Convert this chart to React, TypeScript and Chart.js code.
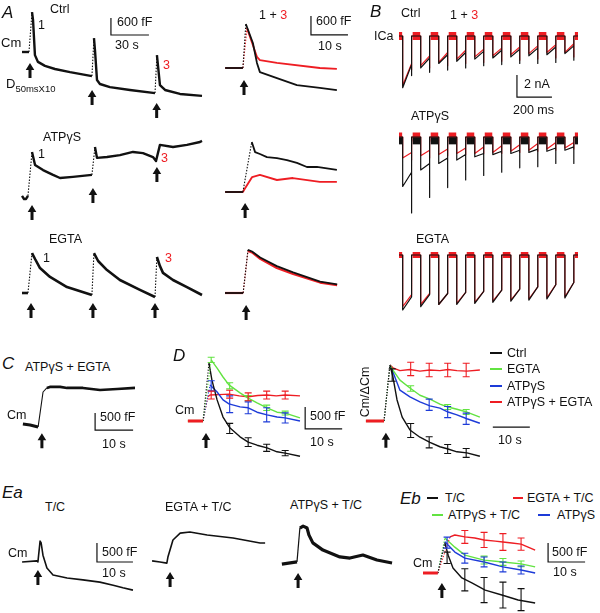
import React, { useEffect, useRef } from "react";
import { Chart, registerables } from "chart.js";

Chart.register(...registerables);

type P = [number, number];

const RED = "#ee1d23";
const GREEN = "#62e341";
const BLUE = "#1d3bd8";
const BLACK = "#111111";
const FONT = "'Liberation Sans', Arial, Helvetica, sans-serif";

// ===== Panel A (left): Cm in fF relative to pre-stimulus level, time in s =====
const aCtrlBase: P[] = [[-6.3, 0], [-0.8, 0]];
const aCtrl1: P[] = [[1.6, 1410], [2.4, 1130], [3.9, -110], [6.3, -350], [11.8, -490], [19.7, -600], [31.6, -710], [48.9, -850]];
const aCtrl2: P[] = [[50.5, 490], [51.3, 70], [52.9, -990], [55.2, -1130], [63.1, -1240], [78.9, -1340], [98.7, -1450]];
const aCtrl3: P[] = [[100.2, -110], [101, -460], [102.6, -1170], [106.6, -1340], [118.4, -1480], [135.8, -1550]];
const aCtrlArrows: P[] = [[0, -390], [49, -1340], [100, -1800]];

const aAtpBase: P[] = [[-7.1, 40], [-5.5, -70], [-3.9, -70], [-2.4, 40]];
const aAtp1: P[] = [[0.8, 1590], [3.2, 1130], [9.5, 950], [17.4, 780], [22.9, 670], [33.1, 710], [48.1, 780]];
const aAtp2: P[] = [[50.5, 1765], [52.1, 1380], [60, 1410], [70.2, 1480], [80.5, 1590], [88.4, 1550], [96.3, 1410], [98.7, 1270], [101.8, 1840], [112.1, 1765], [123.1, 1840], [133.4, 1940], [135, 1980]];
const aAtpArrows: P[] = [[0.8, -280], [48.9, 320], [99.4, 1060]];

const aEgtaBase: P[] = [[-7.1, 0], [-2.4, 0]];
const aEgta1: P[] = [[0.8, 1410], [3.2, 1200], [7.1, 880], [15, 565], [28.4, 210], [48.1, -70]];
const aEgta2: P[] = [[49.7, 1410], [53, 1130], [60, 810], [70.2, 460], [86, 110], [97.9, -140]];
const aEgta3: P[] = [[99.4, 1270], [101.8, 950], [104.2, 710], [112.1, 460], [123.1, 210], [135, -70]];
const aEgtaArrows: P[] = [[0, -350], [48.9, -350], [97.9, -350]];

// ===== Panel A (right): responses 1 (black) and 3 (red) superimposed =====
const arCtrlBase: P[] = [[-5.1, 0], [-0.3, 0]];
const arCtrlBlack: P[] = [[0.5, 1390], [2.4, 790], [3.5, 160], [4.3, -130], [8.9, -320], [14.3, -540], [20.5, -630], [25.1, -700]];
const arCtrlRed: P[] = [[0.8, 1260], [2.2, 790], [3.5, 350], [4.3, 250], [8.9, 160], [20.5, 0], [25.1, -30]];
const arAtpBase: P[] = [[-5.1, 0], [-0.3, 0]];
const arAtpBlack: P[] = [[2.1, 1580], [3, 1260], [4.3, 1200], [6.2, 1100], [8.9, 1070], [11.6, 1010], [14.3, 920], [17, 790], [19.7, 790], [25.1, 700]];
const arAtpRed: P[] = [[0, 60], [2.2, 470], [4.3, 540], [8.9, 380], [13.2, 440], [20.5, 320], [25.1, 320]];
const arEgtaBase: P[] = [[-5.4, 0], [-0.5, 0]];
const arEgtaBlack: P[] = [[0.8, 1360], [1.9, 1310], [4.1, 1120], [8.6, 850], [13, 650], [20.3, 360], [24.9, 270]];
const arEgtaRed: P[] = [[0.8, 1330], [1.9, 1280], [4.1, 1080], [8.6, 790], [13, 600], [20.3, 330], [24.9, 250]];

// ===== Panel B: ICa (nA) vs time (ms), train of 10 depolarisations =====
const bPulseOn = [21, 124, 227, 330, 433, 536, 639, 742, 845, 948];
const bPulseOff = [72, 175, 278, 381, 484, 587, 690, 793, 896, 999];
const bTrainEnd = 1023;
const bCtrlRedPeak = [-4.5, -2.7, -2.4, -2.1, -1.9, -1.8, -1.7, -1.6, -1.5, -1.5];
const bCtrlRedLate = [-2.5, -1.8, -1.5, -1.3, -1.2, -1.1, -1.0, -0.9, -0.8, -0.7];
const bCtrlRedTail = [-3.1, -2.9, -2.7, -2.5, -2.4, -2.3, -2.2, -2.1, -2.0, -1.9];
const bCtrlBlkPeak = [-4.7, -2.9, -2.5, -2.3, -2.1, -2.0, -1.9, -1.8, -1.7, -1.6];
const bCtrlBlkLate = [-2.6, -2.0, -1.7, -1.5, -1.4, -1.3, -1.2, -1.1, -1.0, -0.9];
const bCtrlBlkTail = [-3.6, -3.3, -3.1, -2.9, -2.7, -2.6, -2.5, -2.5, -2.4, -2.2];
const bAtpRedPeak = [-1.9, -1.7, -1.6, -1.5, -1.5, -1.4, -1.3, -1.2, -1.1, -1.0];
const bAtpRedLate = [-1.4, -1.2, -1.1, -1.0, -0.9, -0.8, -0.7, -0.6, -0.5, -0.5];
const bAtpRedTail = [-2.1, -1.9, -1.7, -1.6, -1.5, -1.5, -1.4, -1.3, -1.2, -1.1];
const bAtpBlkPeak = [-4.5, -3.0, -2.4, -2.1, -1.8, -1.6, -1.5, -1.4, -1.3, -1.2];
const bAtpBlkLate = [-3.2, -2.4, -1.9, -1.6, -1.5, -1.3, -1.2, -1.1, -1.0, -0.9];
const bAtpBlkTail = [-6.9, -5.5, -4.6, -3.9, -3.5, -3.2, -2.8, -2.7, -2.4, -2.4];
const bAtpBlkHold = -0.35;
const bEgtaRedPeak = [-4.7, -4.5, -4.5, -4.4, -4.3, -4.2, -4.1, -4.0, -3.9, -3.8];
const bEgtaRedLate = [-3.6, -3.5, -3.5, -3.4, -3.3, -3.2, -3.1, -2.9, -2.7, -2.5];
const bEgtaBlkPeak = [-5.0, -4.7, -4.5, -4.5, -4.4, -4.3, -4.2, -4.1, -4.0, -3.9];
const bEgtaBlkLate = [-3.8, -3.6, -3.5, -3.4, -3.3, -3.2, -3.1, -2.9, -2.7, -2.5];

// ===== Panel C: ATPγS + EGTA =====
const cBase: P[] = [[-4.5, 60], [-2.6, 30], [-0.5, -30]];
const cTrace: P[] = [[1.8, 1120], [2.6, 1150], [5.3, 1150], [7.1, 1120], [11.3, 1120], [15.8, 1060], [20.3, 1090], [25, 1120]];
const cArrows: P[] = [[0.5, -210]];

// ===== Panel D (left): mean Cm (fF) =====
const dBase: P[] = [[-4.9, 0], [-0.8, 0]];
const dCtrl: P[] = [[0.8, 1320], [1.6, 930], [3.0, 480], [4.6, 90], [6.5, -160], [9.2, -360], [11.4, -480], [13.8, -550], [16.5, -610], [19.2, -700], [21.4, -730], [25.4, -800]];
const dEgta: P[] = [[1.4, 1390], [3.0, 1200], [4.6, 1000], [6.2, 820], [9.2, 640], [11.4, 520], [13.8, 410], [16.5, 300], [19.2, 200], [21.4, 180], [25.4, 70]];
const dAtp: P[] = [[1.1, 820], [3.0, 660], [4.6, 480], [6.2, 390], [9.2, 320], [11.4, 300], [13.8, 200], [16.5, 140], [19.2, 90], [21.4, 70], [25.4, 0]];
const dBoth: P[] = [[0.5, 550], [1.1, 590], [3.5, 600], [6.2, 610], [9.0, 570], [11.4, 550], [14.0, 580], [16.5, 590], [19.0, 570], [21.4, 590], [25.4, 570]];
const dErrT = [1.4, 6.4, 11.4, 16.4, 21.4];
const dCtrlErrT = [6.4, 11.4, 16.4, 21.4];
const dCtrlErrM = [-170, -480, -610, -730];
const dCtrlErrE = [115, 100, 80, 60];
const dEgtaErrM = [1390, 800, 520, 300, 180];
const dEgtaErrE = [60, 70, 60, 60, 45];
const dAtpErrM = [800, 380, 300, 140, 70];
const dAtpErrE = [115, 190, 135, 160, 115];
const dBothErrM = [590, 610, 550, 590, 590];
const dBothErrE = [90, 90, 90, 90, 90];
const dArrows: P[] = [[0, -270]];

// ===== Panel D (right): Cm / ΔCm =====
const drBase: P[] = [[-5.7, 0], [-0.8, 0]];
const drCtrl: P[] = [[0.8, 1.0], [1.6, 0.79], [2.7, 0.38], [4.1, 0.07], [6.2, -0.16], [8.9, -0.29], [11.6, -0.38], [14.3, -0.46], [16.5, -0.5], [18.9, -0.55], [21.6, -0.57], [25.1, -0.63]];
const drEgta: P[] = [[0.8, 1.0], [1.6, 0.91], [3.5, 0.73], [6.2, 0.59], [8.9, 0.46], [11.6, 0.39], [14.3, 0.3], [16.5, 0.25], [18.9, 0.21], [21.6, 0.16], [25.1, 0.07]];
const drAtp: P[] = [[0.8, 1.0], [1.6, 0.875], [3.5, 0.55], [6.2, 0.43], [8.9, 0.34], [11.6, 0.27], [14.3, 0.23], [16.5, 0.16], [18.9, 0.11], [21.6, 0.04], [25.1, -0.04]];
const drBoth: P[] = [[0.8, 1.0], [1.6, 0.95], [3.5, 0.9], [6.2, 0.92], [8.9, 0.89], [11.6, 0.91], [14.3, 0.9], [16.5, 0.92], [18.9, 0.9], [21.6, 0.89], [25.1, 0.91]];
const drCtrlErrM = [0.82, -0.17, -0.38, -0.5, -0.57];
const drCtrlErrE = [0.11, 0.125, 0.1, 0.08, 0.08];
const drEgtaErrT = [6.4, 16.4, 21.4];
const drEgtaErrM = [0.58, 0.25, 0.16];
const drEgtaErrE = [0.05, 0.045, 0.045];
const drAtpErrT = [11.4, 16.4, 21.4];
const drAtpErrM = [0.29, 0.16, 0.04];
const drAtpErrE = [0.1, 0.1, 0.1];
const drBothErrT = [6.4, 11.4, 16.4, 21.4];
const drBothErrM = [0.93, 0.91, 0.91, 0.91];
const drBothErrE = [0.12, 0.12, 0.12, 0.12];
const drArrows: P[] = [[-0.3, -0.21]];

// ===== Panel Ea: single traces with T/C =====
const eaTc: P[] = [[-4.7, 0], [-0.6, 30], [-0.3, 0], [0.3, 550], [0.6, 500], [1.1, 180], [2.2, -160], [3.9, -340], [7.8, -420], [12.2, -470], [16.9, -530], [20.6, -610], [23.3, -680], [26.1, -740]];
const eaEgta: P[] = [[-4.7, 30], [-2.5, 0], [-0.6, -30], [-0.3, 130], [1.1, 580], [3.1, 760], [5.8, 790], [10.6, 710], [17.8, 630], [25.3, 500], [26.7, 500]];
const eaAtpBase: P[] = [[-4.2, -30], [0, 30]];
const eaAtp: P[] = [[0.8, 920], [1.7, 970], [2.8, 920], [3.3, 740], [4.4, 530], [7.2, 340], [11.9, 160], [14.7, 130], [18.3, 210], [22.2, 80], [26.4, 0]];

// ===== Panel Eb: means with T/C =====
const ebBase: P[] = [[-5.4, 0], [-1.4, 0]];
const ebTc: P[] = [[0.5, 790], [1.4, 470], [2.7, 130], [5.1, -130], [7.8, -260], [11.4, -450], [15.9, -580], [20.3, -710], [24.9, -790]];
const ebEgta: P[] = [[1.9, 950], [3.2, 1000], [5.9, 950], [8.6, 920], [11.1, 870], [14.1, 840], [16.2, 815], [18.6, 790], [21.1, 760], [23, 680], [24.9, 600]];
const ebAtpTc: P[] = [[0.5, 920], [3.2, 680], [5.9, 470], [11.1, 340], [16.2, 290], [21.1, 240], [24.9, 160]];
const ebAtp: P[] = [[0.5, 820], [3.2, 550], [5.9, 390], [11.1, 290], [16.2, 160], [21.1, 80], [24.9, 0]];
const ebErrT = [1.1, 5.9, 11.1, 16.2, 21.1];
const ebTcErrM = [400, -180, -450, -580, -700];
const ebTcErrE = [150, 290, 330, 340, 290];
const ebEgtaErrT = [5.9, 11.1, 16.2, 21.1];
const ebEgtaErrM = [950, 870, 815, 760];
const ebEgtaErrE = [170, 200, 220, 160];
const ebAtpTcErrT = [11.1, 16.2, 21.1];
const ebAtpTcErrM = [340, 290, 240];
const ebAtpTcErrE = [105, 90, 75];
const ebAtpErrM = [800, 390, 290, 160, 80];
const ebAtpErrE = [145, 130, 130, 130, 105];

// ---------- helpers ----------
interface Ln { pts: P[]; color: string; width: number; dash?: number[] }
interface Err { t: number[]; m: number[]; e: number[]; color: string }
interface Spec {
  box: number[]; origin: number[]; scale: number[];
  lines: Ln[]; arrows?: P[]; errs?: Err[];
  bar?: { at: P; dx: number; dy: number };
}

const first = (a: P[]) => a[0];
const last = (a: P[]) => a[a.length - 1];

function trace(segs: P[][], color: string, width: number, riseDash: number[] = [1.5, 1.5], riseWidth = 1.1): Ln[] {
  const out: Ln[] = [];
  segs.forEach((s, i) => {
    if (i > 0) out.push({ pts: [last(segs[i - 1]), first(s)], color, width: riseWidth, dash: riseDash });
    out.push({ pts: s, color, width });
  });
  return out;
}

function fan(base: P[], series: { pts: P[]; color: string }[], width: number): Ln[] {
  const out: Ln[] = [];
  series.forEach((s) => out.push({ pts: [last(base), first(s.pts)], color: s.color, width: 1.1, dash: [1.2, 1.6] }));
  series.forEach((s) => out.push({ pts: s.pts, color: s.color, width }));
  return out;
}

function wave(peak: number[], late: number[], tail: number[]): P[] {
  const pts: P[] = [[0, 0]];
  bPulseOn.forEach((on, k) => {
    const off = bPulseOff[k];
    pts.push([on, 0], [on, peak[k]], [off, late[k]], [off, tail[k]], [off, 0]);
  });
  pts.push([bTrainEnd, 0]);
  return pts;
}

function holds(level: number, color: string, width: number): Ln[] {
  const segs: P[][] = [[[0, level], [bPulseOn[0] - 3, level]]];
  bPulseOff.forEach((off, k) => {
    const next = k + 1 < bPulseOn.length ? bPulseOn[k + 1] - 3 : bTrainEnd;
    segs.push([[off + 6, level], [next, level]]);
  });
  return segs.map((s) => ({ pts: s, color, width }));
}

const sA = [38 / 30, 17 / 600];
const sAR = [37 / 10, 19 / 600];
const sB = [35 / 200, 22 / 2];

const specs: Spec[] = [
  // A left
  { box: [10, 0, 200, 125], origin: [30, 52], scale: sA, lines: trace([aCtrlBase, aCtrl1, aCtrl2, aCtrl3], BLACK, 2.4), arrows: aCtrlArrows, bar: { at: [63.9, 600], dx: 30, dy: 600 } },
  { box: [10, 128, 200, 97], origin: [31, 197], scale: sA, lines: trace([aAtpBase, aAtp1, aAtp2], BLACK, 2.4), arrows: aAtpArrows },
  { box: [10, 232, 200, 90], origin: [31, 293], scale: sA, lines: trace([aEgtaBase, aEgta1, aEgta2, aEgta3], BLACK, 2.6), arrows: aEgtaArrows },
  // A right
  { box: [218, 5, 140, 95], origin: [244, 68], scale: sAR, lines: [...trace([arCtrlBase, arCtrlBlack], BLACK, 1.8), ...trace([arCtrlBase, arCtrlRed], RED, 1.8)], arrows: [[0, -380]], bar: { at: [18.1, 1043], dx: 10, dy: 600 } },
  { box: [218, 130, 140, 95], origin: [244, 192], scale: sAR, lines: [...trace([arAtpBase, arAtpBlack], BLACK, 1.8), { pts: [...arAtpBase, ...arAtpRed], color: RED, width: 1.9 }], arrows: [[0.3, -350]] },
  { box: [218, 235, 140, 90], origin: [245, 293], scale: sAR, lines: [...trace([arEgtaBase, arEgtaBlack], BLACK, 1.8), ...trace([arEgtaBase, arEgtaRed], RED, 2.2)], arrows: [[0.3, -380]] },
  // B
  { box: [392, 22, 196, 85], origin: [399, 36], scale: sB, lines: [
    { pts: wave(bCtrlBlkPeak, bCtrlBlkLate, bCtrlBlkTail), color: BLACK, width: 1.2 },
    { pts: wave(bCtrlRedPeak, bCtrlRedLate, bCtrlRedTail), color: RED, width: 1.2 },
    ...holds(0, RED, 8)], bar: { at: [674, -5.55], dx: 200, dy: 2 } },
  { box: [392, 125, 196, 95], origin: [399, 137], scale: sB, lines: [
    ...holds(bAtpBlkHold, BLACK, 7),
    { pts: wave(bAtpBlkPeak, bAtpBlkLate, bAtpBlkTail), color: BLACK, width: 1.2 },
    { pts: wave(bAtpRedPeak, bAtpRedLate, bAtpRedTail), color: RED, width: 1.2 },
    ...holds(0, RED, 9)] },
  { box: [392, 245, 196, 70], origin: [399, 255], scale: sB, lines: [
    { pts: wave(bEgtaBlkPeak, bEgtaBlkLate, bEgtaBlkLate), color: BLACK, width: 1.2 },
    { pts: wave(bEgtaRedPeak, bEgtaRedLate, bEgtaRedLate), color: RED, width: 1.2 },
    ...holds(0, RED, 6)] },
  // C
  { box: [15, 375, 130, 80], origin: [40, 426], scale: [3.8, 17 / 500], lines: [{ pts: cBase, color: BLACK, width: 3 }, { pts: [last(cBase), [0.8, 1000], first(cTrace)], color: BLACK, width: 1.1 }, { pts: cTrace, color: BLACK, width: 2.6 }], arrows: cArrows, bar: { at: [14.5, -120], dx: 10, dy: 500 } },
  // D left
  { box: [180, 345, 165, 118], origin: [206, 421], scale: [3.7, 22 / 500], lines: [
    { pts: dBase, color: RED, width: 3 }, { pts: dBase, color: GREEN, width: 2.2 },
    ...fan(dBase, [{ pts: dCtrl, color: BLACK }, { pts: dEgta, color: GREEN }, { pts: dAtp, color: BLUE }, { pts: dBoth, color: RED }], 1.4)],
    errs: [
      { t: dCtrlErrT, m: dCtrlErrM, e: dCtrlErrE, color: BLACK },
      { t: dErrT, m: dEgtaErrM, e: dEgtaErrE, color: GREEN },
      { t: dErrT, m: dAtpErrM, e: dAtpErrE, color: BLUE },
      { t: dErrT, m: dBothErrM, e: dBothErrE, color: RED }],
    arrows: dArrows, bar: { at: [26.8, -180], dx: 10, dy: 500 } },
  // D right
  { box: [362, 345, 175, 118], origin: [387, 421], scale: [3.7, 56], lines: [
    { pts: drBase, color: RED, width: 3 }, { pts: drBase, color: GREEN, width: 2.2 },
    ...fan(drBase, [{ pts: drCtrl, color: BLACK }, { pts: drEgta, color: GREEN }, { pts: drAtp, color: BLUE }, { pts: drBoth, color: RED }], 1.4)],
    errs: [
      { t: dErrT, m: drCtrlErrM, e: drCtrlErrE, color: BLACK },
      { t: drEgtaErrT, m: drEgtaErrM, e: drEgtaErrE, color: GREEN },
      { t: drAtpErrT, m: drAtpErrM, e: drAtpErrE, color: BLUE },
      { t: drBothErrT, m: drBothErrM, e: drBothErrE, color: RED }],
    arrows: drArrows, bar: { at: [28.6, -0.11], dx: 10, dy: 0 } },
  // Ea
  { box: [15, 530, 125, 70], origin: [39, 562], scale: [3.6, 19 / 500], lines: [{ pts: eaTc, color: BLACK, width: 1.6 }], arrows: [[-0.3, -210]], bar: { at: [16.1, 0], dx: 10, dy: 500 } },
  { box: [145, 520, 125, 75], origin: [169, 562], scale: [3.6, 19 / 500], lines: [{ pts: eaEgta, color: BLACK, width: 1.6 }], arrows: [[0.3, -260]] },
  { box: [275, 515, 125, 80], origin: [297, 563], scale: [3.6, 19 / 500], lines: trace([eaAtpBase, eaAtp], BLACK, 3.2, [], 1.2), arrows: [[0.3, -260]] },
  // Eb
  { box: [415, 528, 180, 85], origin: [443, 573], scale: [3.7, 19 / 500], lines: [
    { pts: ebBase, color: RED, width: 3 }, { pts: ebBase, color: BLUE, width: 1.6 },
    ...fan(ebBase, [{ pts: ebTc, color: BLACK }, { pts: ebEgta, color: RED }, { pts: ebAtpTc, color: GREEN }, { pts: ebAtp, color: BLUE }], 1.4)],
    errs: [
      { t: ebErrT, m: ebTcErrM, e: ebTcErrE, color: BLACK },
      { t: ebEgtaErrT, m: ebEgtaErrM, e: ebEgtaErrE, color: RED },
      { t: ebAtpTcErrT, m: ebAtpTcErrM, e: ebAtpTcErrE, color: GREEN },
      { t: ebErrT, m: ebAtpErrM, e: ebAtpErrE, color: BLUE }],
    arrows: [[-0.3, -260]], bar: { at: [28.4, 290], dx: 10, dy: 500 } },
];

function Mini({ spec }: { spec: Spec }) {
  const ref = useRef<HTMLCanvasElement | null>(null);
  const [L, T, W, H] = spec.box;
  useEffect(() => {
    const [ox, oy] = spec.origin;
    const [sx, sy] = spec.scale;
    const xmin = (L - ox) / sx, xmax = (L + W - ox) / sx;
    const ymax = (oy - T) / sy, ymin = (oy - T - H) / sy;
    const overlay = {
      id: "overlay",
      afterDatasetsDraw(chart: any) {
        const c = chart.ctx;
        const X = (v: number) => chart.scales.x.getPixelForValue(v);
        const Y = (v: number) => chart.scales.y.getPixelForValue(v);
        c.save();
        (spec.errs || []).forEach((er) => {
          c.strokeStyle = er.color;
          c.lineWidth = 1.1;
          er.t.forEach((t, i) => {
            const x = X(t), y1 = Y(er.m[i] + er.e[i]), y2 = Y(er.m[i] - er.e[i]);
            c.beginPath();
            c.moveTo(x, y1); c.lineTo(x, y2);
            c.moveTo(x - 3.5, y1); c.lineTo(x + 3.5, y1);
            c.moveTo(x - 3.5, y2); c.lineTo(x + 3.5, y2);
            c.stroke();
          });
        });
        (spec.arrows || []).forEach(([t, v]) => {
          const x = X(t), y = Y(v);
          c.fillStyle = BLACK;
          c.beginPath();
          c.moveTo(x, y); c.lineTo(x + 4.3, y + 7); c.lineTo(x + 1.5, y + 7); c.lineTo(x + 1.5, y + 15);
          c.lineTo(x - 1.5, y + 15); c.lineTo(x - 1.5, y + 7); c.lineTo(x - 4.3, y + 7);
          c.closePath(); c.fill();
        });
        if (spec.bar) {
          const { at, dx, dy } = spec.bar;
          const x0 = X(at[0]), y0 = Y(at[1]);
          c.strokeStyle = BLACK; c.lineWidth = 1.2;
          c.beginPath();
          if (dy) { c.moveTo(x0, Y(at[1] + dy)); c.lineTo(x0, y0); } else c.moveTo(x0, y0);
          c.lineTo(X(at[0] + dx), y0);
          c.stroke();
        }
        c.restore();
      },
    };
    const chart = new Chart(ref.current as HTMLCanvasElement, {
      type: "line",
      data: {
        datasets: spec.lines.map((l) => ({
          data: l.pts.map(([x, y]) => ({ x, y })),
          borderColor: l.color, borderWidth: l.width, borderDash: l.dash || [],
          pointRadius: 0, fill: false, tension: 0, clip: false,
          borderJoinStyle: "round", borderCapStyle: "butt",
        })),
      },
      options: {
        animation: false, responsive: false, maintainAspectRatio: false, devicePixelRatio: 1,
        events: [], layout: { padding: 0 },
        plugins: { legend: { display: false }, tooltip: { enabled: false } },
        scales: {
          x: { type: "linear", min: xmin, max: xmax, display: false },
          y: { type: "linear", min: ymin, max: ymax, display: false },
        },
      },
      plugins: [overlay],
    } as any);
    return () => chart.destroy();
  }, [spec]);
  return <canvas ref={ref} width={W} height={H} style={{ position: "absolute", left: L, top: T, width: W, height: H }} />;
}

function Tx({ x, y, s = 12.5, c = BLACK, i = false, children }: any) {
  return (
    <span style={{ position: "absolute", left: x, top: y, transform: "translateY(-50%)", fontSize: s, color: c, fontStyle: i ? "italic" : "normal", lineHeight: 1, whiteSpace: "nowrap", fontFamily: FONT }}>
      {children}
    </span>
  );
}

function Key({ x, y, w, c }: any) {
  return <div style={{ position: "absolute", left: x, top: y - 1, width: w, height: 2, background: c }} />;
}

export default function App() {
  return (
    <div style={{ position: "absolute", left: 0, top: 0, width: 600, height: 613, background: "#fff", overflow: "hidden", fontFamily: FONT }}>
      {specs.map((s, i) => <Mini key={i} spec={s} />)}
      {/* Panel A */}
      <Tx x={2} y={12} s={17} i>A</Tx>
      <Tx x={50} y={9}>Ctrl</Tx>
      <Tx x={1} y={42} s={13}>Cm</Tx>
      <Tx x={38} y={25}>1</Tx>
      <span style={{ position: "absolute", left: 6, top: 83, transform: "translateY(-50%)", fontSize: 13, lineHeight: 1, whiteSpace: "nowrap", fontFamily: FONT, color: BLACK }}>
        D<span style={{ fontSize: 9.5, position: "relative", top: 4 }}>50msX10</span>
      </span>
      <Tx x={117} y={22}>600 fF</Tx>
      <Tx x={115} y={45}>30 s</Tx>
      <Tx x={163} y={65} c={RED}>3</Tx>
      <Tx x={43} y={137}>ATPγS</Tx>
      <Tx x={38} y={154}>1</Tx>
      <Tx x={161} y={158} c={RED}>3</Tx>
      <Tx x={49} y={239}>EGTA</Tx>
      <Tx x={43} y={258}>1</Tx>
      <Tx x={165} y={258} c={RED}>3</Tx>
      <Tx x={259} y={15}>1 + <span style={{ color: RED }}>3</span></Tx>
      <Tx x={316} y={21}>600 fF</Tx>
      <Tx x={318} y={46}>10 s</Tx>
      {/* Panel B */}
      <Tx x={370} y={11} s={17} i>B</Tx>
      <Tx x={401} y={13}>Ctrl</Tx>
      <Tx x={450} y={15}>1 + <span style={{ color: RED }}>3</span></Tx>
      <Tx x={374} y={36}>ICa</Tx>
      <Tx x={524} y={84}>2 nA</Tx>
      <Tx x={513} y={110}>200 ms</Tx>
      <Tx x={411} y={116}>ATPγS</Tx>
      <Tx x={416} y={239}>EGTA</Tx>
      {/* Panel C */}
      <Tx x={2} y={363} s={17} i>C</Tx>
      <Tx x={25} y={367}>ATPγS + EGTA</Tx>
      <Tx x={7} y={415}>Cm</Tx>
      <Tx x={100} y={417}>500 fF</Tx>
      <Tx x={102} y={444}>10 s</Tx>
      {/* Panel D */}
      <Tx x={173} y={355} s={17} i>D</Tx>
      <Tx x={175} y={410}>Cm</Tx>
      <Tx x={310} y={416}>500 fF</Tx>
      <Tx x={310} y={442}>10 s</Tx>
      <span style={{ position: "absolute", left: 365, top: 392, transform: "translate(-50%,-50%) rotate(-90deg)", fontSize: 12.5, lineHeight: 1, whiteSpace: "nowrap", fontFamily: FONT, color: BLACK }}>Cm/ΔCm</span>
      <Key x={490} y={353} w={12} c={BLACK} />
      <Key x={490} y={369} w={12} c={GREEN} />
      <Key x={490} y={386} w={12} c={BLUE} />
      <Key x={490} y={402} w={12} c={RED} />
      <Tx x={507} y={353}>Ctrl</Tx>
      <Tx x={507} y={369}>EGTA</Tx>
      <Tx x={507} y={386}>ATPγS</Tx>
      <Tx x={507} y={402}>ATPγS + EGTA</Tx>
      <Tx x={498} y={440}>10 s</Tx>
      {/* Panel Ea */}
      <Tx x={2} y={492} s={17} i>Ea</Tx>
      <Tx x={45} y={507}>T/C</Tx>
      <Tx x={165} y={507}>EGTA + T/C</Tx>
      <Tx x={290} y={505}>ATPγS + T/C</Tx>
      <Tx x={8} y={553}>Cm</Tx>
      <Tx x={102} y={552}>500 fF</Tx>
      <Tx x={102} y={573}>10 s</Tx>
      {/* Panel Eb */}
      <Tx x={400} y={498} s={17} i>Eb</Tx>
      <Key x={427} y={498} w={11} c={BLACK} />
      <Tx x={445} y={498}>T/C</Tx>
      <Key x={513} y={498} w={10} c={RED} />
      <Tx x={527} y={498}>EGTA + T/C</Tx>
      <Key x={432} y={515} w={11} c={GREEN} />
      <Tx x={448} y={515}>ATPγS + T/C</Tx>
      <Key x={538} y={515} w={12} c={BLUE} />
      <Tx x={557} y={515}>ATPγS</Tx>
      <Tx x={413} y={563}>Cm</Tx>
      <Tx x={552} y={552}>500 fF</Tx>
      <Tx x={553} y={572}>10 s</Tx>
    </div>
  );
}
